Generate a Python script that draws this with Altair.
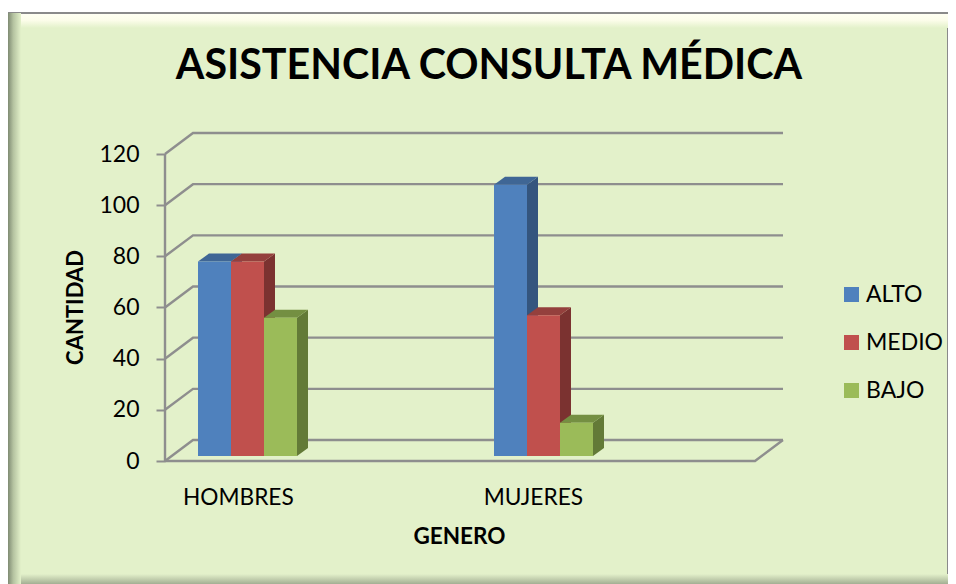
import altair as alt
import pandas as pd

TITLE = "ASISTENCIA CONSULTA MÉDICA"
CATEGORIES = ["HOMBRES", "MUJERES"]
SERIES = ["ALTO", "MEDIO", "BAJO"]
ALTO = [76, 106]
MEDIO = [76, 55]
BAJO = [54, 13]
Y_TICKS = [0, 20, 40, 60, 80, 100, 120]
COLORS = ["#4F81BD", "#C0504D", "#9BBB59"]
TOP_COLORS = ["#3F6695", "#94403D", "#748F42"]
SIDE_COLORS = ["#34557E", "#7B3230", "#637A37"]
GRID = "#8E8E8E"
PANEL = "#E3F1CA"
FONT = "Lato"

W, H = 940, 571
TOP_PAGE, LEFT_PAGE = 13, 8
PX_Y = 120 / 307
y_dom = [(461 - (TOP_PAGE + H)) * PX_Y, (461 - TOP_PAGE) * PX_Y]
PX_X = 1 / 295
x_dom = [(LEFT_PAGE - 165) * PX_X, (LEFT_PAGE + W - 165) * PX_X]
xs = alt.Scale(domain=x_dom, range=[0, W], nice=False, zero=False)
ys = alt.Scale(domain=y_dom, range=[H, 0], nice=False, zero=False)

BAR_W = 33 * PX_X
BAR_START = 33 * PX_X
GROUP_STEP = 296 * PX_X
BASE = 5 * PX_Y
DEPTH_X, DEPTH_Y = 11 * PX_X, 8 * PX_Y
WALL_X, WALL_Y = 28 * PX_X, 21 * PX_Y
N_CAT = len(CATEGORIES)

def grad(stops, horizontal):
    return alt.LinearGradient(
        gradient="linear",
        stops=[alt.GradientStop(color=c, offset=o) for c, o in stops],
        x1=0, x2=1 if horizontal else 0, y1=0, y2=0 if horizontal else 1,
    )

def bevel(x0, x1, y0, y1, stops, horizontal):
    return alt.Chart(alt.Data(values=[{}])).mark_rect(color=grad(stops, horizontal)).encode(
        x=alt.value(x0), x2=alt.value(x1), y=alt.value(y0), y2=alt.value(y1))

layers = [
    bevel(0, W, 1, 15, [("#FFFFF2", 0), ("#FCFDEA", 0.45), (PANEL, 1)], False),
    bevel(0, W, H - 10, H, [(PANEL, 0), ("#A3AF93", 1)], False),
    bevel(0, 13, 0, H, [("#7F8B73", 0), ("#B4C2A0", 0.4), (PANEL, 1)], True),
]

rows = []
for v in Y_TICKS:
    rows += [
        {"k": v, "o": 0, "x": 0, "y": v},
        {"k": v, "o": 1, "x": WALL_X, "y": v + WALL_Y},
        {"k": v, "o": 2, "x": N_CAT + WALL_X, "y": v + WALL_Y},
    ]
rows += [
    {"k": -1, "o": 0, "x": 0, "y": 0},
    {"k": -1, "o": 1, "x": N_CAT, "y": 0},
    {"k": -1, "o": 2, "x": N_CAT + WALL_X, "y": WALL_Y},
    {"k": -2, "o": 0, "x": 0, "y": 0},
    {"k": -2, "o": 1, "x": 0, "y": max(Y_TICKS)},
]
x_axis = alt.Axis(
    values=[i + 0.247 for i in range(N_CAT)],
    labelExpr=f"datum.value < 1 ? '{CATEGORIES[0]}' : '{CATEGORIES[1]}'",
    offset=-102, domain=False, ticks=False, grid=False,
    labelFont=FONT, labelFontSize=22.7, labelColor="#000000", labelPadding=4,
    labelBaseline="top", labelAlign="center",
    title="GENERO", titleFont=FONT, titleFontSize=22.5, titleFontWeight="bold", titleColor="#000000",
    titleX=451, titleY=54, titleBaseline="middle", titleAlign="center",
)
y_axis = alt.Axis(
    values=Y_TICKS, offset=-157, domain=False, grid=False,
    tickColor=GRID, tickWidth=2, tickSize=9,
    labelFont=FONT, labelFontSize=23, labelColor="#000000", labelPadding=17,
    title="CANTIDAD", titleFont=FONT, titleFontSize=22, titleFontWeight="bold", titleColor="#000000",
    titleX=-90, titleY=294, titleAngle=270, titleBaseline="middle", titleAlign="center",
)
layers.append(
    alt.Chart(pd.DataFrame(rows)).mark_line(color=GRID, strokeWidth=2.4).encode(
        x=alt.X("x:Q", scale=xs, axis=x_axis),
        y=alt.Y("y:Q", scale=ys, axis=y_axis),
        detail="k:N",
        order="o:Q",
    )
)

values = [ALTO, MEDIO, BAJO]
fronts = []
for j, s in enumerate(SERIES):
    top, side = [], []
    for i, c in enumerate(CATEGORIES):
        v = values[j][i]
        x0 = i * GROUP_STEP + BAR_START + j * BAR_W
        x1 = x0 + BAR_W
        t = BASE + v
        fronts.append({"cat": c, "serie": s, "x0": x0, "x1": x1, "y0": BASE, "y1": t})
        top += [
            {"c": c, "x": x0, "y": t, "y2": t},
            {"c": c, "x": x0 + DEPTH_X, "y": t + DEPTH_Y, "y2": t},
            {"c": c, "x": x1, "y": t + DEPTH_Y, "y2": t},
            {"c": c, "x": x1 + DEPTH_X, "y": t + DEPTH_Y, "y2": t + DEPTH_Y},
        ]
        side += [
            {"c": c, "x": x1, "y": t, "y2": BASE},
            {"c": c, "x": x1 + DEPTH_X, "y": t + DEPTH_Y, "y2": BASE + DEPTH_Y},
        ]
    for rows_, col in ((side, SIDE_COLORS[j]), (top, TOP_COLORS[j])):
        layers.append(
            alt.Chart(pd.DataFrame(rows_)).mark_area(color=col, orient="vertical", opacity=1).encode(
                x=alt.X("x:Q", scale=xs, axis=x_axis),
                y=alt.Y("y:Q", scale=ys, axis=y_axis),
                y2="y2:Q",
                detail="c:N",
            )
        )

layers.append(
    alt.Chart(pd.DataFrame(fronts)).mark_bar(opacity=1).encode(
        x=alt.X("x0:Q", scale=xs, axis=x_axis),
        x2="x1:Q",
        y=alt.Y("y1:Q", scale=ys, axis=y_axis),
        y2="y0:Q",
        color=alt.Color(
            "serie:N",
            scale=alt.Scale(domain=SERIES, range=COLORS),
            legend=alt.Legend(
                title=None, orient="none", legendX=832, legendY=270,
                symbolType="square", symbolSize=225, symbolStrokeWidth=0, symbolOpacity=1,
                labelFont=FONT, labelFontSize=23, labelColor="#000000", labelOffset=3,
                rowPadding=24, padding=0,
            ),
        ),
    )
)

chart = (
    alt.layer(*layers)
    .properties(
        width=W, height=H,
        padding={"left": 0, "top": 5, "right": 0, "bottom": 0},
        autosize=alt.AutoSizeParams(type="none"),
        background="#FFFFFF",
        title=alt.TitleParams(
            TITLE, anchor="middle", frame="group", offset=0, dx=11, dy=107,
            font=FONT, fontSize=41.2, fontWeight="bold", color="#000000", baseline="alphabetic",
        ),
    )
    .configure_view(fill=PANEL, stroke="#8A8A8A", strokeWidth=2)
)
chart.save("out.html", embed_options={"renderer": "svg", "actions": False})
